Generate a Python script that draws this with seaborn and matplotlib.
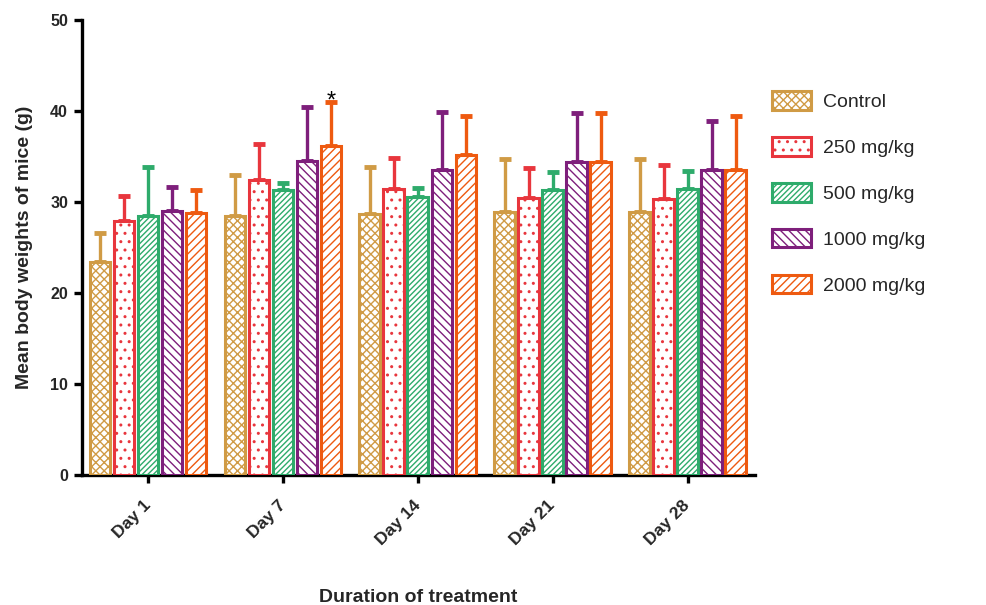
import matplotlib
matplotlib.use("Agg")
import matplotlib.pyplot as plt
import seaborn as sns
import pandas as pd
import numpy as np
from matplotlib.patches import Patch

days = ["Day 1", "Day 7", "Day 14", "Day 21", "Day 28"]
groups = ["Control", "250 mg/kg", "500 mg/kg", "1000 mg/kg", "2000 mg/kg"]

control_mean = [23.4, 28.5, 28.7, 28.9, 28.9]
control_sd = [3.2, 4.5, 5.1, 5.8, 5.8]
d250_mean = [27.9, 32.4, 31.4, 30.4, 30.3]
d250_sd = [2.8, 4.0, 3.4, 3.3, 3.8]
d500_mean = [28.5, 31.3, 30.5, 31.3, 31.4]
d500_sd = [5.3, 0.8, 1.0, 2.0, 2.0]
d1000_mean = [29.0, 34.5, 33.5, 34.4, 33.5]
d1000_sd = [2.6, 5.9, 6.4, 5.4, 5.4]
d2000_mean = [28.8, 36.2, 35.2, 34.4, 33.5]
d2000_sd = [2.5, 4.8, 4.2, 5.4, 5.9]

colors = ["#D09B45", "#E8363D", "#2EAB6B", "#7E1F7B", "#EE5A10"]
hatches = ["xxxx", "..", "//////", "\\\\\\\\", "////"]

means = [control_mean, d250_mean, d500_mean, d1000_mean, d2000_mean]
sds = [control_sd, d250_sd, d500_sd, d1000_sd, d2000_sd]

rows = []
for g, m in zip(groups, means):
    for d, v in zip(days, m):
        rows.append({"Day": d, "Group": g, "Weight": v})
df = pd.DataFrame(rows)

sns.set_style("ticks")
plt.rcParams["font.family"] = ["Liberation Sans", "DejaVu Sans"]
plt.rcParams["hatch.linewidth"] = 1.0

fig = plt.figure(figsize=(9.87, 6.05), dpi=100)
ax = fig.add_axes([0.083, 0.215, 0.682, 0.752])

sns.barplot(data=df, x="Day", y="Weight", hue="Group", order=days,
            hue_order=groups, palette=colors, width=0.89, gap=0.14,
            errorbar=None, legend=False, ax=ax)

bar_conts = list(ax.containers)
for i, cont in enumerate(bar_conts):
    xs = []
    for bar in cont:
        bar.set_facecolor("white")
        bar.set_edgecolor(colors[i])
        bar.set_hatch(hatches[i])
        bar.set_linewidth(2.2)
        bar.set_zorder(3)
        xs.append(bar.get_x() + bar.get_width() / 2)
    ax.errorbar(xs, means[i], yerr=[np.zeros(len(xs)), sds[i]], fmt="none",
                ecolor=colors[i], elinewidth=2.4, capsize=4, capthick=3.5,
                zorder=2)
    if i == 4:
        ax.text(xs[1], means[i][1] + sds[i][1] - 1.2, "*", ha="center",
                va="bottom", fontsize=17, color="black", zorder=4)

ax.set_ylim(0, 50)
ax.set_xlim(-0.49, 4.5)
ax.set_yticks([0, 10, 20, 30, 40, 50])
ax.set_xticks(range(len(days)))
ax.set_xticklabels(days, rotation=45, ha="right", va="center",
                   rotation_mode="anchor", fontweight="bold", fontsize=12.5)
for lab in ax.get_yticklabels():
    lab.set_fontweight("bold")
    lab.set_fontsize(11.5)

for s in ["top", "right"]:
    ax.spines[s].set_visible(False)
for s in ["left", "bottom"]:
    ax.spines[s].set_linewidth(2.4)
    ax.spines[s].set_color("black")
ax.tick_params(axis="both", width=2.4, length=6, color="black", pad=4)
ax.tick_params(axis="x", pad=14)

ax.set_ylabel("Mean body weights of mice (g)", fontsize=14, fontweight="bold",
              labelpad=12)
ax.set_xlabel("Duration of treatment", fontsize=14, fontweight="bold",
              labelpad=30)

handles = [Patch(facecolor="white", edgecolor=c, hatch=h, linewidth=2.2)
           for c, h in zip(colors, hatches)]
fig.legend(handles, groups, loc="upper left", bbox_to_anchor=(0.772, 0.865),
           frameon=False, fontsize=14, handlelength=2.0, handleheight=1.1,
           labelspacing=1.33, handletextpad=0.65, borderpad=0)

fig.savefig("out.png", dpi=100)
